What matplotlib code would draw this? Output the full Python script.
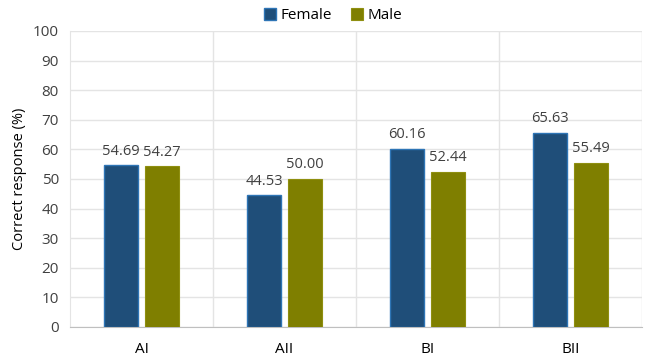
import numpy as np
import matplotlib.pyplot as plt

plt.rcParams['font.family'] = ['Open Sans', 'DejaVu Sans']

groups = ["AI", "AII", "BI", "BII"]
female = [54.69, 44.53, 60.16, 65.63]
male = [54.27, 50.00, 52.44, 55.49]

fig = plt.figure(figsize=(6.45, 3.59), dpi=100)
ax = fig.add_axes([70/645, 32/359, 572/645, 296/359])

x = np.arange(len(groups))
w = 0.235
gap = 0.05
b1 = ax.bar(x - (w + gap)/2, female, w, color='#1F4E79', edgecolor='#2E75B6',
            linewidth=1.0, label='Female', zorder=3)
b2 = ax.bar(x + (w + gap)/2, male, w, color='#7F7F00', edgecolor='#8F8F10',
            linewidth=0.8, label='Male', zorder=3)

for bars, vals in ((b1, female), (b2, male)):
    for r, v in zip(bars, vals):
        ax.text(r.get_x() + r.get_width()/2, v + 2.2, "%.2f" % v,
                ha='center', va='bottom', fontsize=10.5, color='#404040')

ax.set_xlim(-0.5, len(groups) - 0.5)
ax.set_ylim(0, 100)
ax.set_yticks(range(0, 101, 10))
ax.set_xticks(x)
ax.set_xticklabels(groups)
ax.tick_params(axis='both', length=0, labelsize=11, colors='#404040', pad=8)
ax.tick_params(axis='x', labelcolor='#000000', pad=11)

ax.yaxis.grid(True, color='#E4E4E4', linewidth=1.0, zorder=0)
for xv in np.arange(0.5, len(groups), 1.0):
    ax.axvline(xv, color='#E4E4E4', linewidth=1.0, zorder=0)

for s in ['top', 'right']:
    ax.spines[s].set_visible(False)
ax.spines['left'].set_color('#E4E4E4')
ax.spines['bottom'].set_color('#BFBFBF')

ax.set_ylabel("Correct response (%)", fontsize=10.5, color='#000000', labelpad=4)

ax.legend(loc='lower center', bbox_to_anchor=(0.46, 1.0), ncol=2, frameon=False,
          fontsize=11, handlelength=0.8, handleheight=0.8, handletextpad=0.3,
          columnspacing=1.2, borderaxespad=0.1)

fig.savefig("out.png", dpi=100)
